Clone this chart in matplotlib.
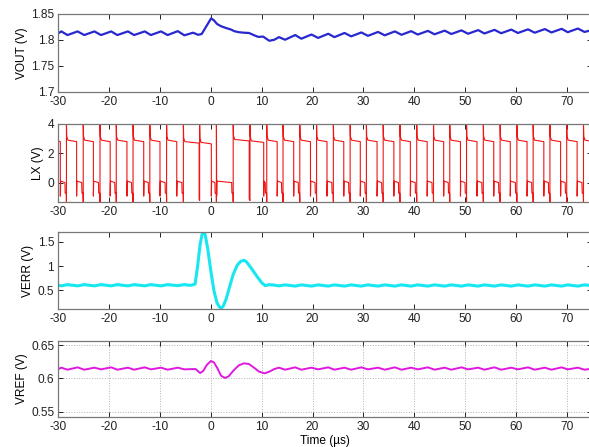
import matplotlib
matplotlib.use("Agg")
import matplotlib.pyplot as plt

plt.rcParams['font.family'] = ['Liberation Sans', 'DejaVu Sans']
plt.rcParams['axes.unicode_minus'] = False

# ---------------- data ----------------
# ripple vertex times before / after the load transient (us)
pre_t = [-30.0, -29.4, -28.2, -26.2, -24.9, -22.9, -21.6, -19.6, -18.4, -16.3,
         -15.1, -13.0, -11.8, -9.8, -8.5, -6.5, -5.2]
post_t = [14.6, 16.6, 17.8, 19.8, 21.1, 23.1, 24.3, 26.3, 27.6, 29.6, 30.9, 32.9,
          34.2, 36.2, 37.5, 39.4, 40.7, 42.7, 44.0, 46.0, 47.3, 49.3, 50.6, 52.6,
          53.8, 55.8, 57.1, 59.1, 60.4, 62.4, 63.7, 65.7, 67.0, 69.0, 70.2, 72.2,
          73.5, 75.0]

# VOUT
vout_pre = [1.8130, 1.8165, 1.8095, 1.8165, 1.8095, 1.8165, 1.8095, 1.8165, 1.8095,
            1.8165, 1.8095, 1.8165, 1.8095, 1.8165, 1.8095, 1.8170, 1.8090]
vout_tr_t = [-3.5, -2.5, -1.8, 0.05, 0.6, 1.2, 2.0, 3.0, 4.0, 4.6, 5.5, 6.5, 7.5,
             8.3, 9.3, 10.3, 11.5, 12.5, 13.4]
vout_tr = [1.8140, 1.8100, 1.8115, 1.8415, 1.8380, 1.8310, 1.8265, 1.8230, 1.8200,
           1.8170, 1.8150, 1.8140, 1.8135, 1.8100, 1.8060, 1.8065, 1.7985, 1.8005,
           1.8055]
vout_post = [1.8005, 1.8095, 1.8025, 1.8105, 1.8040, 1.8120, 1.8055, 1.8135, 1.8070,
             1.8145, 1.8080, 1.8155, 1.8090, 1.8165, 1.8100, 1.8170, 1.8105, 1.8175,
             1.8110, 1.8180, 1.8115, 1.8185, 1.8120, 1.8190, 1.8125, 1.8195, 1.8130,
             1.8200, 1.8135, 1.8205, 1.8140, 1.8210, 1.8145, 1.8215, 1.8150, 1.8220,
             1.8155, 1.8190]

# LX switching node: edge times (us) and high level of each pulse (V)
lx_first_fall = -29.6
lx_rise = [-28.4, -25.1, -21.8, -18.6, -15.3, -12.0, -8.7, -5.4, -2.2, 1.1, 4.4, 7.7,
           11.0, 14.2, 17.5, 20.8, 24.1, 27.4, 30.6, 33.9, 37.2, 40.5, 43.8, 47.0,
           50.3, 53.6, 56.9, 60.2, 63.4, 66.7, 70.0, 73.3]
lx_fall = [-26.4, -23.1, -19.8, -16.5, -13.2, -10.0, -6.7, -2.3, 0.1, 1.15, 7.55, 10.4,
           13.05, 16.3, 19.6, 22.85, 26.15, 29.4, 32.7, 36.0, 39.25, 42.55, 45.8, 49.1,
           52.35, 55.65, 58.9, 62.2, 65.5, 68.8, 72.05, 75.3]
lx_high = [2.85, 2.85, 2.85, 2.85, 2.85, 2.85, 2.85, 2.75, 2.70, 4.0, 2.90, 2.80,
           2.85, 2.85, 2.85, 2.85, 2.85, 2.85, 2.85, 2.85, 2.85, 2.85, 2.85, 2.85,
           2.85, 2.85, 2.85, 2.85, 2.85, 2.85, 2.85, 2.85]

# VERR
verr_pre = [0.610, 0.595, 0.620, 0.595, 0.620, 0.595, 0.620, 0.595, 0.620, 0.595,
            0.620, 0.595, 0.620, 0.595, 0.620, 0.600, 0.620]
verr_tr_t = [-4.0, -3.1, -2.6, -2.1, -1.7, -1.4, -1.1, -0.6, 0.0, 0.6, 1.2, 1.7, 2.0,
             2.4, 3.0, 3.7, 4.4, 5.2, 5.9, 6.5, 7.0, 8.0, 9.0, 10.0, 10.7, 11.5, 12.5,
             13.4]
verr_tr = [0.605, 0.630, 1.000, 1.450, 1.660, 1.700, 1.640, 1.350, 0.900, 0.500,
           0.250, 0.160, 0.140, 0.170, 0.320, 0.580, 0.830, 1.020, 1.100, 1.120,
           1.090, 0.950, 0.800, 0.660, 0.600, 0.620, 0.610, 0.595]
verr_post = [0.615, 0.590, 0.615, 0.590, 0.615, 0.590, 0.615, 0.590, 0.615, 0.590,
             0.615, 0.590, 0.615, 0.590, 0.615, 0.590, 0.615, 0.590, 0.615, 0.590,
             0.615, 0.590, 0.615, 0.590, 0.615, 0.590, 0.615, 0.590, 0.615, 0.590,
             0.615, 0.590, 0.615, 0.590, 0.615, 0.590, 0.615, 0.600]

# VREF
vref_pre = [0.6140, 0.6160, 0.6130, 0.6165, 0.6130, 0.6160, 0.6135, 0.6165, 0.6130,
            0.6160, 0.6130, 0.6165, 0.6135, 0.6160, 0.6130, 0.6160, 0.6135]
vref_tr_t = [-3.0, -2.1, -1.5, -0.8, 0.0, 0.6, 1.3, 2.0, 2.8, 3.5, 4.5, 5.5, 6.5, 7.5,
             8.5, 9.5, 10.6, 11.5, 12.5, 13.4]
vref_tr = [0.6140, 0.6080, 0.6110, 0.6200, 0.6260, 0.6240, 0.6150, 0.6040, 0.6005,
           0.6030, 0.6120, 0.6195, 0.6225, 0.6215, 0.6160, 0.6100, 0.6075, 0.6100,
           0.6140, 0.6160]
vref_post = [0.6130, 0.6165, 0.6130, 0.6160, 0.6135, 0.6165, 0.6130, 0.6160, 0.6130,
             0.6165, 0.6135, 0.6160, 0.6130, 0.6165, 0.6130, 0.6160, 0.6135, 0.6165,
             0.6130, 0.6160, 0.6130, 0.6165, 0.6135, 0.6160, 0.6130, 0.6165, 0.6130,
             0.6160, 0.6135, 0.6165, 0.6130, 0.6160, 0.6130, 0.6165, 0.6135, 0.6160,
             0.6130, 0.6145]

x_ticks = [-30, -20, -10, 0, 10, 20, 30, 40, 50, 60, 70]


def join(pre_v, tr_t, tr_v, post_v):
    return pre_t + tr_t + post_t, pre_v + tr_v + post_v


def build_lx():
    t = [-30.0, lx_first_fall]
    v = [lx_high[0], lx_high[0] - 0.05]
    prev_f = lx_first_fall
    for r, f, h in zip(lx_rise, lx_fall, lx_high):
        if r - prev_f > 0.5:
            t += [prev_f, prev_f + 0.06, r - 0.3, r - 0.25, r - 0.03, r]
            v += [-0.9, 0.12, 0.02, -0.7, -0.7, -1.3]
        else:
            t += [prev_f, r]
            v += [-1.1, -1.2]
        if f - r > 0.3:
            t += [r, r + 0.06, r + 0.3, f]
            v += [4.05, h + 0.3, h + 0.05, h - 0.05]
        else:
            t += [r, f]
            v += [4.05, 0.1]
        prev_f = f
    return t, v


# ---------------- figure ----------------
fig = plt.figure(figsize=(5.89, 4.47), dpi=100)
left, width = 0.099, 0.9063
ax1 = fig.add_axes([left, 0.7942, width, 0.1745])
ax2 = fig.add_axes([left, 0.5481, width, 0.1745])
ax3 = fig.add_axes([left, 0.3087, width, 0.1723])
ax4 = fig.add_axes([left, 0.0671, width, 0.1700])

t, v = join(vout_pre, vout_tr_t, vout_tr, vout_post)
ax1.plot(t, v, color='#2828d0', lw=1.6)
ax1.set_ylim(1.7, 1.85)
ax1.set_yticks([1.7, 1.75, 1.8, 1.85])
ax1.set_yticklabels(['1.7', '1.75', '1.8', '1.85'])
ax1.set_ylabel('VOUT (V)')

t, v = build_lx()
ax2.plot(t, v, color='#f01515', lw=0.8)
ax2.set_ylim(-1.3, 4.0)
ax2.set_yticks([0, 2, 4])
ax2.set_ylabel('LX (V)')

t, v = join(verr_pre, verr_tr_t, verr_tr, verr_post)
ax3.plot(t, v, color='#18e6f0', lw=2.2)
ax3.set_ylim(0.12, 1.70)
ax3.set_yticks([0.5, 1.0, 1.5])
ax3.set_yticklabels(['0.5', '1', '1.5'])
ax3.set_ylabel('VERR (V)')

t, v = join(vref_pre, vref_tr_t, vref_tr, vref_post)
ax4.plot(t, v, color='#e018e0', lw=1.4)
ax4.set_ylim(0.542, 0.656)
ax4.set_yticks([0.55, 0.6, 0.65])
ax4.set_yticklabels(['0.55', '0.6', '0.65'])
ax4.set_ylabel('VREF (V)')
ax4.grid(True, linestyle=':', color='#b0b0b0', lw=0.7)
ax4.set_xlabel('Time (µs)', fontsize=8.6, labelpad=1)

for ax in (ax1, ax2, ax3, ax4):
    ax.set_xlim(-30, 75)
    ax.set_xticks(x_ticks)
    ax.tick_params(direction='in', top=True, right=True, length=3.5, width=0.7,
                   labelsize=8.6, pad=3, colors='#222222')
    for s in ax.spines.values():
        s.set_color('#777777')
        s.set_linewidth(0.9)
    ax.yaxis.label.set_size(8.6)
    ax.yaxis.labelpad = 2.5
    ax.set_axisbelow(True)

fig.savefig('out.png', dpi=100, facecolor='white')
